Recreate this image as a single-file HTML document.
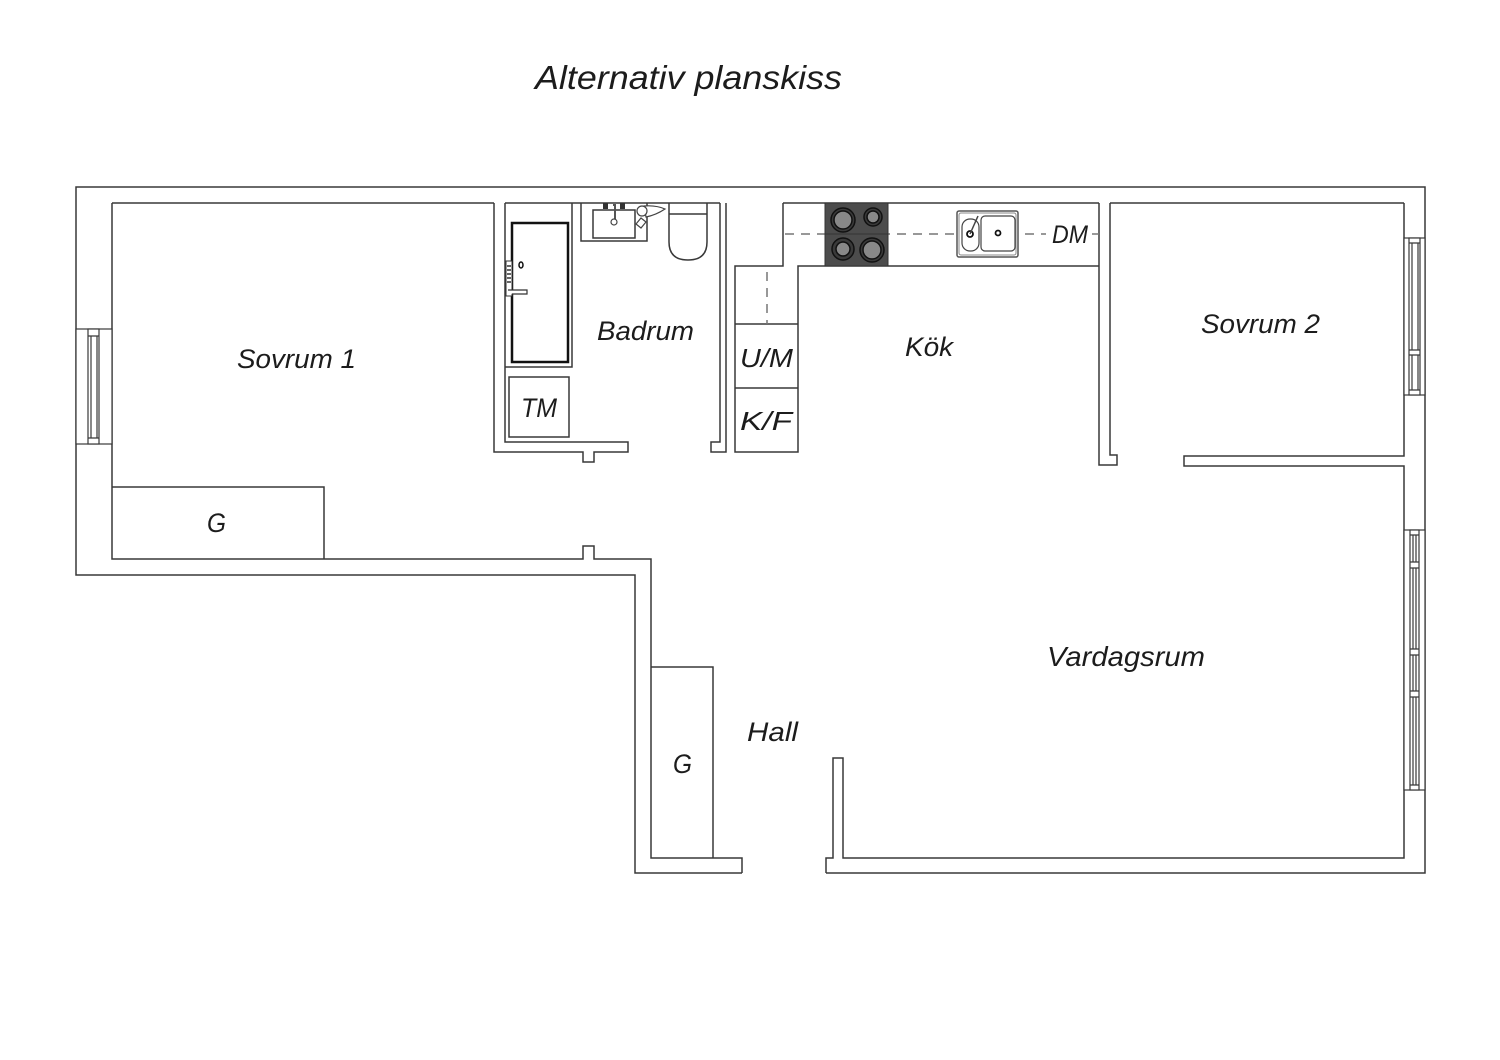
<!DOCTYPE html>
<html>
<head>
<meta charset="utf-8">
<style>
  html,body{margin:0;padding:0;background:#fff;}
  body{width:1500px;height:1060px;overflow:hidden;}
  svg{display:block;}
  text{font-family:"Liberation Sans", sans-serif;font-style:italic;fill:#1c1c1c;}
</style>
</head>
<body>
<svg width="1500" height="1060" viewBox="0 0 1500 1060" xmlns="http://www.w3.org/2000/svg">
  <rect width="1500" height="1060" fill="#fff"/>

  <!-- Title -->
  <text x="535" y="89" font-size="33" textLength="307" lengthAdjust="spacingAndGlyphs">Alternativ planskiss</text>

  <g fill="none" stroke="#383838" stroke-width="1.5" stroke-linejoin="miter">
    <!-- Outer boundary -->
    <path d="M826,873 H1425 V187 H76 V575 H635 V873 H742"/>

    <!-- top inner lines -->
    <path d="M112,203 H494 M505,203 H720 M783,203 H1099 M1110,203 H1404"/>

    <!-- Sovrum 1 inner / hall top -->
    <path d="M494,203 V452 H583 V462 H594 V452 H628 V442 H505 V203"/>
    <path d="M112,203 V559 H583 V546 H594 V559 H651 V858 H742 V873"/>

    <!-- G closet sovrum 1 -->
    <path d="M112,487 H324 V559"/>

    <!-- Badrum right wall -->
    <path d="M720,203 V442 H711 V452 H726 V203"/>

    <!-- Kitchen -->
    <path d="M783,203 V266 H735 V452 H798 V266 H1099"/>
    <path d="M735,324 H798 M735,388 H798"/>

    <!-- wall kitchen / sovrum 2 -->
    <path d="M1099,203 V465 H1117 V455 H1110 V203"/>

    <!-- Sovrum 2 -->
    <path d="M1404,203 V456 H1184 V466 H1404 V858 H843 V758 H833 V858 H826 V873"/>

    <!-- hall G closet -->
    <path d="M651,667 H713 V858"/>

    <!-- Bathtub frame -->
    <path d="M505,367 H572 V203"/>
    <!-- TM -->
    <rect x="509" y="377" width="60" height="60"/>

    <!-- Sink frame -->
    <path d="M581,203 V241 H647 V203"/>
    <rect x="593" y="210" width="42" height="28"/>

    <!-- Toilet -->
    <path d="M669,203 V242 Q669,260 688,260 Q707,260 707,242 V203"/>
    <path d="M669,214 H707"/>
  </g>

  <!-- dashed lines -->
  <g fill="none" stroke="#777" stroke-width="1.5" stroke-dasharray="9,7">
    <path d="M785,234 H1046"/>
    <path d="M1092,234 H1099"/>
    <path d="M767,272 V324"/>
  </g>

  <!-- Bathtub -->
  <rect x="512" y="223" width="56" height="139" fill="none" stroke="#111" stroke-width="2.5"/>
  <rect x="506" y="261" width="6" height="35" fill="#fff" stroke="#333" stroke-width="1"/>
  <g stroke="#333" stroke-width="1.5">
    <path d="M507,266 H511 M507,270 H511 M507,274 H511 M507,278 H511 M507,282 H511"/>
  </g>
  <path d="M508,290 H527 V294 H512" fill="#fff" stroke="#333" stroke-width="1.2"/>
  <ellipse cx="521" cy="265" rx="2" ry="3" fill="none" stroke="#111" stroke-width="1.5"/>

  <!-- Sink tap -->
  <rect x="603" y="203" width="5" height="6" fill="#333"/>
  <rect x="620" y="203" width="5" height="6" fill="#333"/>
  <path d="M613,205 H615 V220" stroke="#555" stroke-width="2" fill="none"/>
  <circle cx="614" cy="222" r="3" fill="#fff" stroke="#444" stroke-width="1.2"/>
  <!-- shower/tap thing -->
  <path d="M644,206 Q656,205 665,209 Q656,215 646,217 Z" fill="#fff" stroke="#444" stroke-width="1.2"/>
  <circle cx="642" cy="211" r="5" fill="#fff" stroke="#444" stroke-width="1.2"/>
  <path d="M636,224 L641,218 L646,222 L641,228 Z" fill="#fff" stroke="#444" stroke-width="1.2"/>

  <!-- Stove -->
  <rect x="825" y="203" width="63" height="63" fill="#4c4c4c" stroke="#333" stroke-width="1"/>
  <path d="M825,234 H888" stroke="#333" stroke-width="1"/>
  <g stroke="#111" stroke-width="1.5">
    <circle cx="843" cy="220" r="12" fill="#3a3a3a"/>
    <circle cx="843" cy="220" r="9" fill="#888"/>
    <circle cx="873" cy="217" r="9" fill="#3a3a3a"/>
    <circle cx="873" cy="217" r="6" fill="#888"/>
    <circle cx="843" cy="249" r="11" fill="#3a3a3a"/>
    <circle cx="843" cy="249" r="7" fill="#888"/>
    <circle cx="872" cy="250" r="12" fill="#3a3a3a"/>
    <circle cx="872" cy="250" r="9" fill="#888"/>
  </g>

  <!-- Kitchen sink -->
  <rect x="957" y="211" width="61" height="46" rx="2" fill="#fff" stroke="#555" stroke-width="1.5"/>
  <rect x="959" y="213" width="57" height="42" rx="2" fill="none" stroke="#888" stroke-width="1"/>
  <rect x="962" y="219" width="17" height="32" rx="8" fill="none" stroke="#444" stroke-width="1.2"/>
  <rect x="981" y="216" width="34" height="35" rx="4" fill="none" stroke="#444" stroke-width="1.2"/>
  <circle cx="970" cy="234" r="3" fill="#fff" stroke="#111" stroke-width="1.8"/>
  <circle cx="998" cy="233" r="2.5" fill="#fff" stroke="#111" stroke-width="1.8"/>
  <path d="M970,234 L978,216" stroke="#444" stroke-width="1.5"/>

  <!-- Windows -->
  <g fill="#fff" stroke="#383838" stroke-width="1.2">
    <!-- left window -->
    <rect x="76" y="329" width="36" height="115"/>
    <rect x="88" y="329" width="11" height="115"/>
    <path d="M91,336 V438 M97,336 V438 M88,336 H99 M88,438 H99" fill="none"/>
    <!-- sovrum 2 window -->
    <rect x="1404" y="238" width="21" height="157"/>
    <rect x="1409" y="238" width="11" height="157"/>
    <path d="M1412,243 V350 M1418,243 V350 M1412,355 V390 M1418,355 V390 M1409,243 H1420 M1409,350 H1420 M1409,355 H1420 M1409,390 H1420" fill="none"/>
    <!-- vardagsrum window -->
    <rect x="1404" y="530" width="21" height="260"/>
    <rect x="1410" y="530" width="9" height="260"/>
    <path d="M1413,535 V562 M1416,535 V562 M1413,568 V649 M1416,568 V649 M1413,655 V691 M1416,655 V691 M1413,697 V785 M1416,697 V785 M1410,535 H1419 M1410,562 H1419 M1410,568 H1419 M1410,649 H1419 M1410,655 H1419 M1410,691 H1419 M1410,697 H1419 M1410,785 H1419" fill="none"/>
  </g>

  <!-- Labels -->
  <text x="237" y="368" font-size="27" textLength="119" lengthAdjust="spacingAndGlyphs">Sovrum 1</text>
  <text x="597" y="340" font-size="27" textLength="97" lengthAdjust="spacingAndGlyphs">Badrum</text>
  <text x="521" y="417" font-size="27" textLength="36" lengthAdjust="spacingAndGlyphs">TM</text>
  <text x="740" y="367" font-size="26" textLength="53" lengthAdjust="spacingAndGlyphs">U/M</text>
  <text x="740" y="430" font-size="26" textLength="52" lengthAdjust="spacingAndGlyphs">K/F</text>
  <text x="905" y="356" font-size="27" textLength="48" lengthAdjust="spacingAndGlyphs">Kök</text>
  <text x="1052" y="243" font-size="25" textLength="36" lengthAdjust="spacingAndGlyphs">DM</text>
  <text x="1201" y="333" font-size="27" textLength="119" lengthAdjust="spacingAndGlyphs">Sovrum 2</text>
  <text x="1047" y="666" font-size="28" textLength="158" lengthAdjust="spacingAndGlyphs">Vardagsrum</text>
  <text x="747" y="741" font-size="27" textLength="51" lengthAdjust="spacingAndGlyphs">Hall</text>
  <text x="673" y="773" font-size="27" textLength="19" lengthAdjust="spacingAndGlyphs">G</text>
  <text x="207" y="532" font-size="27" textLength="19" lengthAdjust="spacingAndGlyphs">G</text>
</svg>
</body>
</html>
